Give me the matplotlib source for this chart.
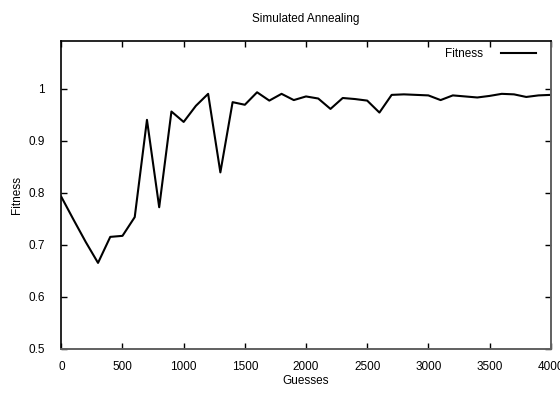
import matplotlib
matplotlib.use("Agg")
import matplotlib.pyplot as plt

plt.rcParams['font.family'] = ['Liberation Sans', 'DejaVu Sans']
plt.rcParams['font.size'] = 8.5

# guesses vs fitness
guesses = [0, 100, 200, 300, 400, 500, 600, 700, 800, 900,
           1000, 1100, 1200, 1300, 1400, 1500, 1600, 1700, 1800, 1900,
           2000, 2100, 2200, 2300, 2400, 2500, 2600, 2700, 2800, 2900,
           3000, 3100, 3200, 3300, 3400, 3500, 3600, 3700, 3800, 3900, 4000]
fitness = [0.792, 0.748, 0.705, 0.665, 0.715, 0.717, 0.753, 0.940, 0.772, 0.956,
           0.936, 0.967, 0.990, 0.839, 0.974, 0.969, 0.993, 0.977, 0.990, 0.978,
           0.985, 0.981, 0.961, 0.982, 0.980, 0.977, 0.954, 0.988, 0.989, 0.988,
           0.987, 0.978, 0.987, 0.985, 0.983, 0.986, 0.990, 0.989, 0.984, 0.987, 0.988]

xticks = [0, 500, 1000, 1500, 2000, 2500, 3000, 3500, 4000]
yticks = [0.5, 0.6, 0.7, 0.8, 0.9, 1.0]
ytick_labels = ['0.5', '0.6', '0.7', '0.8', '0.9', '1']

fig = plt.figure(figsize=(5.6, 3.96), dpi=100)
ax = fig.add_axes([0.1095, 0.1194, 0.8739, 0.7763])

ax.plot(guesses, fitness, color='black', lw=1.5, label='Fitness')

ax.set_xlim(0, 4000)
ax.set_ylim(0.5, 1.091)
ax.set_xticks(xticks)
ax.set_yticks(yticks)
ax.set_yticklabels(ytick_labels)
ax.tick_params(direction='in', length=4, width=1, top=True, right=True,
               colors='black')
ax.tick_params(axis='x', pad=9)
ax.tick_params(axis='y', pad=12)

for side in ['left', 'top']:
    ax.spines[side].set_color('black')
    ax.spines[side].set_linewidth(1.2)
for side in ['bottom', 'right']:
    ax.spines[side].set_color('#606060')
    ax.spines[side].set_linewidth(1.4)

ax.set_xlabel('Guesses', labelpad=1)
ax.set_ylabel('Fitness', labelpad=4)
fig.text(306 / 560, 1 - 19 / 396, 'Simulated Annealing', ha='center', va='center')

leg = ax.legend(loc='upper right', bbox_to_anchor=(0.9796, 0.992),
                frameon=False, markerfirst=False, borderaxespad=0,
                handlelength=3.0, handletextpad=1.45)

fig.savefig('out.png', dpi=100)
